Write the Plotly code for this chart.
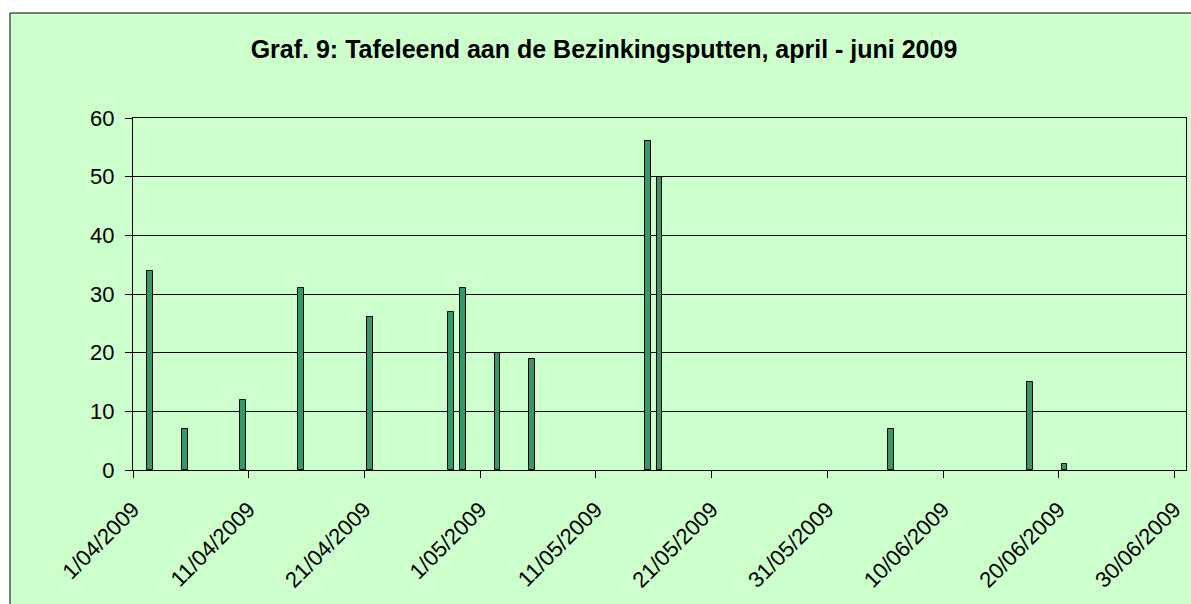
import plotly.graph_objects as go

# Data
dates = ["2009-04-02", "2009-04-05", "2009-04-10", "2009-04-15", "2009-04-21",
         "2009-04-28", "2009-04-29", "2009-05-02", "2009-05-05", "2009-05-15",
         "2009-05-16", "2009-06-05", "2009-06-17", "2009-06-20"]
counts = [34, 7, 12, 31, 26, 27, 31, 20, 19, 56, 50, 7, 15, 1]
title_text = "Graf. 9: Tafeleend aan de Bezinkingsputten, april - juni 2009"
x_start, x_end = "2009-04-01", "2009-07-01"
y_ticks = [0, 10, 20, 30, 40, 50, 60]

W, H = 1191, 604
ML, MR, MT, MB = 133, 5, 118, 134
DAY = 86400000
FONT = "Arial, 'Liberation Sans', sans-serif"
BG = "#CCFFCC"

fig = go.Figure(go.Bar(
    x=dates, y=counts,
    xperiod=DAY, xperiodalignment="middle",
    width=0.5 * DAY,
    marker=dict(color="#339966", line=dict(color="black", width=1)),
))

pw, ph = W - ML - MR, H - MT - MB
fx0 = (10 - ML) / pw
fx1 = (W + 20 - ML) / pw
fy1 = (H - MB - 13) / ph
fy0 = (H - MB - (H + 20)) / ph

fig.update_layout(
    width=W, height=H,
    margin=dict(l=ML, r=MR, t=MT, b=MB),
    paper_bgcolor="white", plot_bgcolor=BG,
    font=dict(family=FONT, size=22, color="black"),
    showlegend=False,
    title=dict(text="<b>" + title_text + "</b>", x=604 / W, xanchor="center",
               y=1 - 49 / H, yanchor="middle",
               font=dict(family=FONT, size=25, color="black")),
    shapes=[dict(type="rect", xref="paper", yref="paper",
                 x0=fx0, x1=fx1, y0=fy0, y1=fy1,
                 line=dict(color="black", width=1), fillcolor=BG, layer="below")],
    bargap=0,
)
fig.update_xaxes(
    type="date", range=[x_start, x_end],
    tick0=x_start, dtick=10 * DAY, tickformat="%-d/%m/%Y",
    tickangle=-45, ticks="outside", ticklen=7, tickcolor="black",
    showline=True, linecolor="black", linewidth=1, mirror=True,
    showgrid=False, zeroline=False, ticklabelstandoff=10,
    tickfont=dict(family=FONT, size=22, color="black"),
)
fig.update_yaxes(
    range=[0, 60], tickvals=y_ticks,
    ticks="outside", ticklen=7, tickcolor="black",
    showline=True, linecolor="black", linewidth=1, mirror=True,
    showgrid=True, gridcolor="black", gridwidth=1, zeroline=False,
    ticklabelstandoff=6,
    tickfont=dict(family=FONT, size=22, color="black"),
)

fig.write_html("out.html", config={"displayModeBar": False},
               post_script="document.body.style.margin='0px';document.body.style.overflow='hidden';")
